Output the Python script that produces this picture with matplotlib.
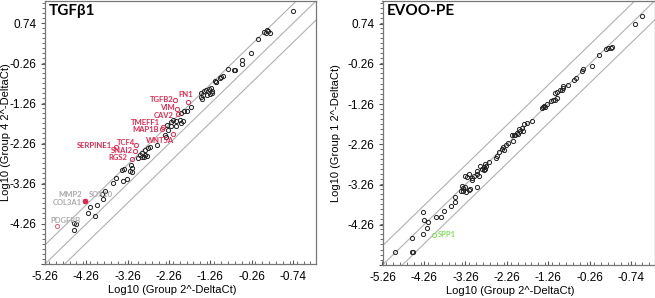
import numpy as np
import matplotlib.pyplot as plt
from matplotlib.ticker import FixedLocator, MultipleLocator

plt.rcParams['font.family'] = ['Liberation Sans', 'DejaVu Sans']

# tick values (the last x label reads "-0.74" in the original)
ticks = [-5.26, -4.26, -3.26, -2.26, -1.26, -0.26, 0.74]
xticklabels = ['-5.26', '-4.26', '-3.26', '-2.26', '-1.26', '-0.26', '-0.74']
yticklabels = ['', '-4.26', '-3.26', '-2.26', '-1.26', '-0.26', '0.74']
fold = np.log10(3)

# ---- TGFb1 panel: Group 2 (x) vs Group 4 (y)
tgf_x = [0.75, 0.04, 0.11, 0.15, 0.19, 0.08, -0.11, -0.28, -0.49, -0.48, -0.67, -0.69, -0.82,
         -0.95, -0.99, -1.03, -1.15, -1.11, -1.13,
         -1.475, -1.436, -1.412, -1.354, -1.291, -1.233, -1.209, -1.257, -1.34, -1.451, -1.492, -1.209,
         -1.72, -1.83, -1.90, -1.97,
         -1.92, -2.0, -1.96, -2.08, -2.08, -2.16, -2.20, -2.22, -2.30, -2.28, -2.36, -2.32,
         -2.56, -2.725, -2.76, -2.84, -2.90, -2.845, -2.80, -2.87, -2.965, -3.02, -2.92,
         -3.18, -3.15, -3.21, -3.15, -3.34, -3.39,
         -3.55, -3.625, -3.37, -3.27,
         -3.80, -3.89, -3.85, -3.99, -4.17, -4.23, -4.05,
         -4.55, -4.52, -4.55]
tgf_y = [1.05, 0.53, 0.58, 0.55, 0.50, 0.51, 0.35, 0.01, -0.18, -0.26, -0.41, -0.43, -0.385,
         -0.56, -0.59, -0.62, -0.685, -0.73, -0.71,
         -0.99, -1.035, -0.95, -0.91, -0.89, -0.87, -0.95, -1.02, -1.05, -1.14, -1.09, -1.0,
         -1.35, -1.45, -1.45, -1.49,
         -1.70, -1.66, -1.74, -1.70, -1.81, -1.68, -1.83, -1.73, -1.785, -1.93, -2.04, -2.08,
         -2.285, -2.33, -2.37, -2.41, -2.49, -2.535, -2.56, -2.58, -2.535, -2.62, -2.58,
         -2.785, -2.87, -2.95, -2.97, -2.89, -2.91,
         -3.12, -3.24, -3.18, -3.14,
         -3.435, -3.51, -3.635, -3.79, -3.83, -3.99, -4.06,
         -4.23, -4.26, -4.41]

red_genes = ['TGFB2', 'FN1', 'VIM', 'CAV2', 'TMEFF1', 'MAP1B', 'WNT5A', 'TCF4', 'SNAI2', 'RGS2', 'SERPINE1']
red_x = [-2.11, -1.81, -2.06, -2.05, -2.40, -2.43, -2.16, -3.06, -3.09, -3.15, -3.545]
red_y = [-1.18, -1.22, -1.39, -1.52, -1.85, -1.89, -2.01, -2.30, -2.43, -2.635, -2.33]

grey_genes = ['MMP2', 'COL3A1', 'SOX10', 'PDGFRB']
grey_x = [-4.29, -4.30, -4.28, -4.98]
grey_y = [-3.685, -3.69, -3.68, -4.31]

# ---- EVOO-PE panel: Group 2 (x) vs Group 1 (y)
evoo_x = [1.0, 0.83, 0.125, 0.19, 0.245, 0.27, -0.035, -0.21, -0.43, -0.44, -0.59, -0.64, -0.78,
          -0.90, -0.91, -0.98, -1.06, -1.11, -0.94, -1.06, -1.11, -1.15, -1.20,
          -1.30, -1.36, -1.42, -1.34, -1.39,
          -1.66, -1.78, -1.85, -1.90, -1.96, -2.01, -2.06, -2.10, -2.14, -1.86, -1.94, -1.98,
          -2.12, -2.23, -2.28, -2.35, -2.38, -2.33, -2.44, -2.50, -2.53,
          -2.68, -2.79, -2.76, -2.80, -2.78, -2.81, -2.87, -2.91, -2.97, -2.99, -2.93, -3.05,
          -3.09, -3.11, -3.17, -3.21, -3.27,
          -2.97, -3.15, -3.17, -3.27, -3.31, -3.35, -3.33, -3.25, -3.37,
          -3.51, -3.51, -3.61, -3.77, -3.85, -3.97,
          -4.155, -4.25, -4.29, -4.19, -4.28, -4.56, -4.54, -4.52, -4.96]
evoo_y = [0.92, 0.72, 0.115, 0.12, 0.13, 0.147, -0.03, -0.32, -0.39, -0.445, -0.61, -0.66, -0.79,
          -0.82, -0.87, -0.90, -0.96, -0.99, -0.92, -1.10, -1.16, -1.17, -1.19,
          -1.27, -1.31, -1.37, -1.33, -1.33,
          -1.68, -1.74, -1.76, -1.85, -1.88, -1.97, -2.03, -2.03, -2.04, -1.93, -1.94, -2.01,
          -2.17, -2.22, -2.28, -2.32, -2.38, -2.40, -2.46, -2.54, -2.60,
          -2.71, -2.75, -2.79, -2.83, -2.87, -2.91, -2.87, -2.79, -2.93, -2.99, -3.06, -3.04,
          -3.09, -3.16, -3.01, -3.08, -3.06,
          -3.31, -3.37, -3.39, -3.33, -3.35, -3.30, -3.41, -3.45, -3.43,
          -3.56, -3.70, -3.80, -3.92, -4.07, -4.07,
          -4.19, -4.15, -3.94, -4.35, -4.48, -4.58, -4.93, -4.93, -4.93]
green_genes = ['SPP1']
green_x = [-4.02]
green_y = [-4.51]

lo, hi = -5.26, 1.30
RED = '#e2294f'
GREY = '#a9a9a9'
GREEN = '#7ee05a'


def setup(ax, title, ylabel, ylabx):
    ax.set_xlim(lo, hi)
    ax.set_ylim(lo, hi)
    d = np.array([lo - 1, hi + 1])
    for off in (-fold, 0, fold):
        ax.plot(d, d + off, color='#b0b0b0', lw=0.8, zorder=1)
    ax.xaxis.set_major_locator(FixedLocator(ticks))
    ax.yaxis.set_major_locator(FixedLocator(ticks))
    ax.set_xticklabels(xticklabels)
    ax.set_yticklabels(yticklabels)
    ax.xaxis.set_minor_locator(MultipleLocator(1 / 6))
    ax.yaxis.set_minor_locator(MultipleLocator(0.125))
    ax.tick_params(axis='x', which='both', direction='in', labelsize=8.5, pad=5, color='#555')
    ax.tick_params(axis='y', which='both', direction='out', labelsize=8.5, pad=3, color='#555')
    ax.tick_params(which='major', length=3)
    ax.tick_params(which='minor', length=2)
    for s in ax.spines.values():
        s.set_color('#777')
        s.set_linewidth(0.9)
    ax.set_xlabel('Log10 (Group 2^-DeltaCt)', fontsize=8)
    ax.set_ylabel(ylabel, fontsize=8)
    ax.xaxis.set_label_coords(0.47, -0.078)
    ax.yaxis.set_label_coords(ylabx, 0.5)
    ax.text(0.015, 0.99, title, transform=ax.transAxes, ha='left', va='top',
            fontsize=11, fontweight='bold', family=['Lato', 'DejaVu Sans'])


fig = plt.figure(figsize=(6.55, 2.98), dpi=100)
ax1 = fig.add_axes([45 / 655, 34 / 298, 271 / 655, 263 / 298])
ax2 = fig.add_axes([382.5 / 655, 33 / 298, 272 / 655, 264 / 298])

setup(ax1, 'TGF\u03b21', 'Log10 (Group 4 2^-DeltaCt)', -0.125)
setup(ax2, 'EVOO-PE', 'Log10 (Group 1 2^-DeltaCt)', -0.152)

mk = dict(marker='o', ms=3, mfc='none', mew=0.7, ls='none', zorder=3)
ax1.plot(tgf_x, tgf_y, mec='#222', **mk)
ax1.plot(red_x, red_y, mec=RED, **mk)
ax1.plot(grey_x[:3], grey_y[:3], mec=RED, mfc=RED, marker='o', ms=2.8, ls='none', zorder=3)
ax1.plot(grey_x[3:], grey_y[3:], mec='#e0607a', **mk)

# label placement: (dx, dy) in pixels and alignment
red_offs = {'TGFB2': (-2, 1, 'right'), 'FN1': (-2, 8, 'center'), 'VIM': (-2, 1.5, 'right'),
            'CAV2': (-4, -1, 'right'), 'TMEFF1': (-3, 5, 'right'), 'MAP1B': (-3, -1, 'right'),
            'WNT5A': (-13, -7, 'center'), 'TCF4': (-1, 3, 'right'), 'SNAI2': (-2, 0, 'right'),
            'RGS2': (-5, 1, 'right'), 'SERPINE1': (-4, 1, 'right')}
grey_offs = {'MMP2': (-3, 6.5, 'right'), 'COL3A1': (-3, -1, 'right'),
             'SOX10': (3, 6.5, 'left'), 'PDGFRB': (9, 5.5, 'center')}
lab = dict(textcoords='offset pixels', va='center', fontsize=5.5, fontweight='bold',
           family=['Lato', 'DejaVu Sans'], zorder=4)
for g, x, y in zip(red_genes, red_x, red_y):
    dx, dy, ha = red_offs[g]
    ax1.annotate(g, (x, y), xytext=(dx, dy), ha=ha, color=RED, **lab)
for g, x, y in zip(grey_genes, grey_x, grey_y):
    dx, dy, ha = grey_offs[g]
    ax1.annotate(g, (x, y), xytext=(dx, dy), ha=ha, color=GREY, **lab)

ax2.plot(evoo_x, evoo_y, mec='#222', **mk)
ax2.plot(green_x, green_y, mec=GREEN, **mk)
for g, x, y in zip(green_genes, green_x, green_y):
    ax2.annotate(g, (x, y), xytext=(4, 0), ha='left', color=GREEN, **lab)

fig.savefig('out.png', dpi=100)
